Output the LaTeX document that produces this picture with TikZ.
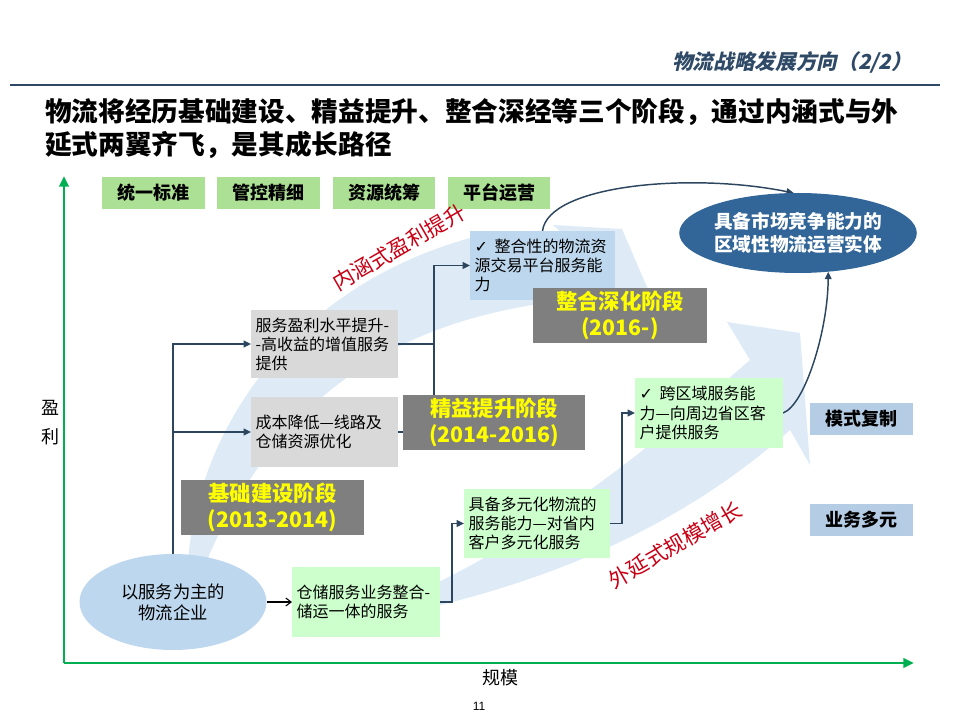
\documentclass[tikz,border=0pt]{standalone}
\usepackage{fontspec}
\setmainfont{Liberation Sans}
\newfontfamily\cjk{Noto Sans CJK SC}
\newfontfamily\cjkit[FakeSlant=0.22]{Noto Sans CJK SC}
\newfontfamily\sym{DejaVu Sans}
\usetikzlibrary{shapes.geometric,arrows.meta}
\definecolor{hdr}{RGB}{47,74,102}
\definecolor{conncol}{RGB}{45,70,95}
\definecolor{boxgray}{RGB}{217,217,217}
\definecolor{stagegray}{RGB}{127,127,127}
\definecolor{stageyellow}{RGB}{255,255,0}
\definecolor{boxgreen}{RGB}{204,255,204}
\definecolor{boxblue}{RGB}{189,215,238}
\definecolor{sideblue}{RGB}{180,204,228}
\definecolor{topgreen}{RGB}{172,224,148}
\definecolor{ellblue}{RGB}{50,102,152}
\definecolor{axisgreen}{RGB}{0,176,80}
\definecolor{redtxt}{RGB}{200,0,20}
\definecolor{bgarrow}{RGB}{222,235,247}
\pgfdeclarelayer{bg}\pgfdeclarelayer{mid}\pgfsetlayers{bg,mid,main}
\begin{document}
\begin{tikzpicture}[x=0.75pt,y=-0.75pt,
  every node/.style={inner sep=0pt, outer sep=0pt},
  lbox/.style={inner xsep=3.5pt, inner ysep=0pt, align=left, font=\cjk\fontsize{12}{14.3}\selectfont, text=black},
  grayb/.style={lbox, fill=boxgray},
  greenb/.style={lbox, fill=boxgreen},
  blueb/.style={lbox, fill=boxblue},
  stage/.style={fill=stagegray, text=stageyellow, align=center, minimum height=41.25pt, font=\cjk\bfseries\fontsize{16}{19.5}\selectfont},
  topg/.style={fill=topgreen, minimum width=77.25pt, minimum height=24pt, font=\cjk\bfseries\fontsize{13.5}{16}\selectfont},
  sideb/.style={fill=sideblue, minimum width=77.25pt, minimum height=24pt, font=\cjk\bfseries\fontsize{13.5}{16}\selectfont},
  conn/.style={draw=conncol, line width=1.1pt},
  >={Triangle[length=5.5pt,width=5pt]},
  axisline/.style={draw=axisgreen, line width=2.2pt, -{Triangle[length=8pt,width=7pt]}},
  redlabel/.style={text=redtxt, font=\cjk\fontsize{16}{18}\selectfont, rotate=30},
  bgshape/.style={fill=bgarrow, draw=none}
]
\useasboundingbox (0,0) rectangle (960,720);

% header
\node[anchor=east, text=hdr, font=\cjkit\bfseries\fontsize{15.5}{18}\selectfont] (hdrtxt) at (912,62) {物流战略发展方向（2/2）};
\coordinate (hl1) at (10,85);
\coordinate (hl2) at (940,85);
\draw[hdr, line width=1.2pt] (hl1) -- (hl2);

% title
\node[anchor=west, align=left, font=\cjk\bfseries\fontsize{20}{24.75}\selectfont] (title) at (45,128.5) {物流将经历基础建设、精益提升、整合深经等三个阶段，通过内涵式与外\\延式两翼齐飞，是其成长路径};

% background arrows
\begin{pgfonlayer}{bg}
\fill[bgshape] (188,560) .. controls (200,420) and (300,285) .. (470,238)
  -- (562,233) -- (553,225) -- (622,229) -- (662,322) -- (635,296)
  .. controls (450,300) and (290,360) .. (205,565) -- cycle;
\fill[bgshape] (400,600) .. controls (560,530) and (680,420) .. (750,360)
  -- (727,322) -- (800,333) -- (810,465) -- (790,430)
  .. controls (700,510) and (580,575) .. (410,612) -- cycle;
\end{pgfonlayer}

% axes
\coordinate (O) at (64,663);
\coordinate (Ytop) at (64,176);
\coordinate (Xend) at (914,663);
\draw[axisline] (O) -- (Ytop);
\draw[axisline] (O) -- (Xend);
\node[font=\cjk\fontsize{13.5}{21.75}\selectfont, align=center] (ylab) at (50,422.5) {盈\\利};
\node[font=\cjk\fontsize{13.5}{16}\selectfont] (xlab) at (500,678) {规模};
\node[font=\fontsize{9}{11}\selectfont] (pg) at (479,706) {11};

% top green boxes
\node[topg] (t1) at (153.5,193) {统一标准};
\node[topg] (t2) at (268.5,193) {管控精细};
\node[topg, minimum width=76.5pt] (t3) at (384,193) {资源统筹};
\node[topg, minimum width=76.5pt] (t4) at (499,193) {平台运营};

% side boxes
\node[sideb] (s1) at (861.5,419) {模式复制};
\node[sideb] (s2) at (861.5,520) {业务多元};

% content boxes
\node[ellipse, fill=boxblue, minimum width=140.25pt, minimum height=72pt, align=center, font=\cjk\fontsize{13}{15.75}\selectfont] (e2) at (173,602) {以服务为主的\\物流企业};
\node[grayb, text width=103.25pt, minimum height=51pt] (bserv) at (324.5,344) {服务盈利水平提升-\\-高收益的增值服务\\提供};
\node[grayb, text width=103.25pt, minimum height=52.5pt] (bcost) at (324.5,432) {成本降低—线路及\\仓储资源优化};
\node[blueb, text width=101.75pt, minimum height=51.75pt] (bint) at (542.5,265.5) {{\sym ✓}\hspace{5pt}整合性的物流资\\源交易平台服务能\\力};
\node[greenb, text width=104pt, minimum height=52.5pt] (bstore) at (366,602) {仓储服务业务整合-\\储运一体的服务};
\node[greenb, text width=102.5pt, minimum height=51.75pt] (bmulti) at (537,523.5) {具备多元化物流的\\服务能力—对省内\\客户多元化服务};
\node[greenb, text width=104pt, minimum height=52.5pt] (bcross) at (709,413) {{\sym ✓}\hspace{5pt}跨区域服务能\\力—向周边省区客\\户提供服务};

\node[stage, minimum width=137.25pt] (st1) at (272.5,507.5) {基础建设阶段\\(2013-2014)};
\node[stage, minimum width=136.5pt] (st2) at (494,422.5) {精益提升阶段\\(2014-2016)};
\node[stage, minimum width=130.5pt] (st3) at (620,315.5) {整合深化阶段\\(2016-)};

\node[ellipse, fill=ellblue, minimum width=160.5pt, minimum height=60pt, text=white, align=center, font=\cjk\bfseries\fontsize{14}{17.25}\selectfont] (e1) at (798,233) {具备市场竞争能力的\\区域性物流运营实体};

% red labels
\node[redlabel] (r1) at (399,247) {内涵式盈利提升};
\node[redlabel] (r2) at (675,545) {外延式规模增长};

% connectors
\coordinate (jx) at (434,300);
\begin{pgfonlayer}{mid}
\draw[conn,->] (e2.north) |- (bserv.west);
\draw[conn,->] (e2.north |- bcost.west) -- (bcost.west);
\draw[conn] (bserv.east) -- (bserv.east -| jx);
\draw[conn,->] (bcost.east) -- (bcost.east -| jx) -- (jx |- bint.west) -- (bint.west);
\draw[black, line width=0.8pt, -{Straight Barb[length=4pt,width=6pt]}] (e2.east) -- (bstore.west);
\draw[conn,->] (bstore.east) -- ++(12,0) |- (bmulti.west);
\draw[conn,->] (bmulti.east) -- ++(12,0) |- (bcross.west);
\draw[conn,->] (bcross.east) .. controls (805,405) and (828,330) .. (e1.-52);
\draw[conn,->] (bint.north) .. controls (548,185) and (690,172) .. (e1.96);
\end{pgfonlayer}
\end{tikzpicture}
\end{document}
